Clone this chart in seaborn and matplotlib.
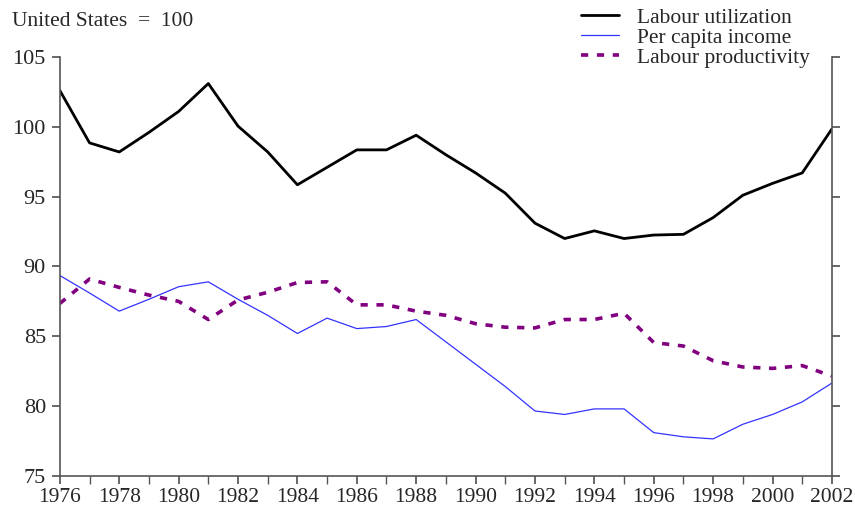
import matplotlib
matplotlib.use("Agg")
import matplotlib.pyplot as plt
import seaborn as sns
import pandas as pd
import numpy as np

years = list(range(1976, 2003))
labour_utilization = [102.6, 98.85, 98.2, 99.6, 101.1, 103.1, 100.05, 98.2, 95.85, 97.1, 98.35, 98.35, 99.4,
                      98.0, 96.7, 95.25, 93.1, 92.0, 92.55, 92.0, 92.25, 92.3, 93.5, 95.1, 95.95, 96.7, 99.85]
per_capita_income = [89.35, 88.1, 86.8, 87.65, 88.55, 88.9, 87.65, 86.5, 85.2, 86.3, 85.55, 85.7, 86.2,
                     84.6, 83.0, 81.4, 79.65, 79.4, 79.8, 79.8, 78.1, 77.8, 77.65, 78.7, 79.4, 80.3, 81.65]
labour_productivity = [87.35, 89.1, 88.5, 87.95, 87.5, 86.2, 87.6, 88.15, 88.85, 88.9, 87.25, 87.25, 86.8,
                       86.5, 85.9, 85.65, 85.6, 86.2, 86.2, 86.65, 84.55, 84.3, 83.25, 82.8, 82.7, 82.9, 82.15]
series_names = ["Labour utilization", "Per capita income", "Labour productivity"]
y_ticks = [75, 80, 85, 90, 95, 100, 105]
x_ticks = list(range(1976, 2003, 2))

df = pd.DataFrame({
    "year": years * 3,
    "value": labour_utilization + per_capita_income + labour_productivity,
    "series": [series_names[0]] * len(years) + [series_names[1]] * len(years) + [series_names[2]] * len(years),
})

sns.set_theme(style="white")
plt.rcParams['font.family'] = ['Liberation Serif', 'DejaVu Serif']

fig = plt.figure(figsize=(8.55, 5.09), dpi=100)
ax = fig.add_axes([0.070, 0.065, 0.903, 0.823])

palette = {series_names[0]: "#000000", series_names[1]: "#3333ff", series_names[2]: "#800080"}
sns.lineplot(data=df, x="year", y="value", hue="series", palette=palette, ax=ax, legend=False)
lines = ax.get_lines()
lines[0].set_linewidth(2.0)
lines[1].set_linewidth(0.9)
lines[2].set_linewidth(2.6)
lines[2].set_linestyle((0, (2.0, 2.4)))
lines[2].set_dash_capstyle("butt")

ax.set_xlim(1976, 2002)
ax.set_ylim(75, 105)
ax.set_yticks(y_ticks)
ax.set_yticklabels([str(v) for v in y_ticks])
ax.set_xticks(x_ticks)
ax.set_xticklabels([str(v) for v in x_ticks])
ax.set_xticks(years, minor=True)
ax.set_xlabel("")
ax.set_ylabel("")

spine_color = "#555555"
for s in ["left", "bottom", "right"]:
    ax.spines[s].set_visible(True)
    ax.spines[s].set_color(spine_color)
    ax.spines[s].set_linewidth(1.2)
ax.spines["top"].set_visible(False)

ax.tick_params(axis="y", which="both", left=True, right=True, direction="out", length=6,
               color=spine_color, labelsize=16, pad=4)
ax.tick_params(axis="x", which="both", bottom=True, direction="out", length=6,
               color=spine_color, labelsize=15.5, pad=2.5)
ax.tick_params(axis="x", which="minor", length=6)

handles = lines
leg = fig.legend(handles, series_names, loc="upper left", bbox_to_anchor=(0.679, 0.985),
                 frameon=False, fontsize=15.5, handlelength=1.8, handletextpad=0.8,
                 labelspacing=0.0, borderaxespad=0.0, borderpad=0.0)

fig.text(0.014, 0.957, "United States  =  100", fontsize=15.5, ha="left", va="center")

fig.savefig("out.png", dpi=100)
